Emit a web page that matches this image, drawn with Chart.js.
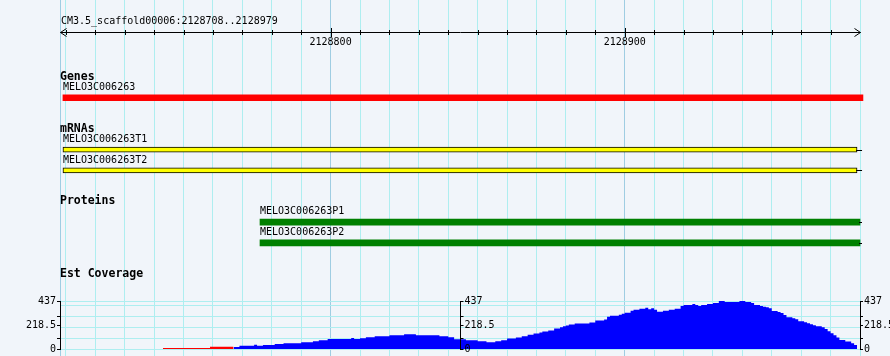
<!DOCTYPE html>
<html><head><meta charset="utf-8">
<script src="https://cdn.jsdelivr.net/npm/chart.js@4/dist/chart.umd.min.js"></script>
<style>
html,body{margin:0;padding:0;background:#f1f5fa;}
#wrap{position:relative;width:890px;height:356px;background:#f1f5fa;overflow:hidden;}
#wrap canvas{position:absolute;left:0;top:0;}
</style></head><body>
<div id="wrap">
<canvas id="grid" width="890" height="356"></canvas>
<canvas id="cov" width="890" height="356"></canvas>
<canvas id="feat" width="890" height="356"></canvas>
</div>
<script>
// ---- data ----
const viewStart = 2128708;
const viewEnd = 2128980;
const rulerTitle = 'CM3.5_scaffold00006:2128708..2128979';
const rulerStep = 10;
const rulerMajor = [2128800, 2128900];
const rulerMajorLabels = ['2128800', '2128900'];

const trackNames = ['Genes', 'mRNAs', 'Proteins', 'Est Coverage'];
const featureNames = ['MELO3C006263', 'MELO3C006263T1', 'MELO3C006263T2', 'MELO3C006263P1', 'MELO3C006263P2'];
const featureTrack = [0, 1, 1, 2, 2];
const featureStart = [2128709, 2128709, 2128709, 2128776, 2128776];
const featureEnd = [2128981, 2128979, 2128979, 2128980, 2128980];

const covMax = 437;
const covTickValues = [0, 100, 218.5, 300, 437];
const covTickLabels = ['0', '', '218.5', '', '437'];
const covGridValues = [0, 100, 200, 300, 400, 437];

const redPos = [2128743, 2128759, 2128767];
const redVal = [9, 20, 20];

const bluePos = [2128767,2128769,2128774,2128775,2128777,2128781,2128784,2128790,2128794,2128796,
 2128799,2128807,2128808,2128810,2128812,2128815,2128820,2128825,2128829,2128837,
 2128840,2128842,2128846,2128850,2128853,2128856,2128858,2128860,2128863,2128865,
 2128867,2128869,2128871,2128872,2128874,2128876,2128878,2128879,2128880,2128881,
 2128883,2128888,2128890,2128893,2128894,2128895,2128898,2128899,2128900,2128902,
 2128903,2128905,2128907,2128908,2128909,2128910,2128911,2128913,2128915,2128917,
 2128919,2128920,2128923,2128924,2128925,2128926,2128928,2128930,2128932,2128934,
 2128939,2128941,2128943,2128944,2128946,2128947,2128948,2128949,2128950,2128952,
 2128953,2128954,2128955,2128957,2128958,2128959,2128961,2128962,2128963,2128964,
 2128965,2128967,2128968,2128969,2128970,2128971,2128972,2128973,2128975,2128977,
 2128978,2128979];
const blueVal = [18,30,38,30,36,45,53,62,71,80,
 92,100,92,98,107,116,125,134,125,116,
 107,89,80,71,62,71,80,95,105,116,
 130,140,150,160,169,187,199,208,214,223,
 232,241,259,268,294,303,312,321,330,348,
 357,366,375,363,370,357,339,348,357,366,
 392,401,410,401,392,401,410,419,437,428,
 437,428,419,401,392,384,381,372,345,336,
 327,310,288,279,270,252,243,235,226,217,
 208,199,181,161,143,125,104,83,69,53,
 36,0];

// ---- styles ----
const MONO = '"DejaVu Sans Mono", "Liberation Mono", monospace';
const GRID_LIGHT = '#aeeef0';
const GRID_DARK = '#9fcde2';
Chart.defaults.font.family = MONO;
Chart.defaults.color = '#000';

function rulerTickValues() {
  const t = [viewStart];
  for (let v = Math.ceil(viewStart / rulerStep) * rulerStep; v <= viewEnd; v += rulerStep) {
    if (v !== viewStart) t.push(v);
  }
  return t;
}

// ---- background grid + ruler ----
const rulerPlugin = {
  id: 'ruler',
  afterDraw(chart) {
    const ctx = chart.ctx, xs = chart.scales.x;
    const y = 32.5;
    const L = xs.getPixelForValue(viewStart) + 0.5;
    const R = xs.getPixelForValue(viewEnd) + 0.5;
    ctx.save();
    ctx.strokeStyle = '#000'; ctx.fillStyle = '#000'; ctx.lineWidth = 1;
    ctx.font = '10px ' + MONO;
    ctx.textBaseline = 'middle'; ctx.textAlign = 'left';
    ctx.fillText(rulerTitle, L + 0.5, 21);
    ctx.beginPath();
    ctx.moveTo(L, y); ctx.lineTo(R, y);
    ctx.moveTo(L + 6, y - 4); ctx.lineTo(L, y); ctx.lineTo(L + 6, y + 4);
    ctx.moveTo(R - 6, y - 4); ctx.lineTo(R, y); ctx.lineTo(R - 6, y + 4);
    xs.ticks.forEach((t, i) => {
      if (i === 0 || i === xs.ticks.length - 1) return;
      const px = Math.round(xs.getPixelForValue(t.value)) + 0.5;
      const major = rulerMajor.includes(t.value);
      ctx.moveTo(px, major ? 28 : 30); ctx.lineTo(px, major ? 37 : 35);
    });
    ctx.stroke();
    ctx.textAlign = 'center';
    rulerMajor.forEach((v, i) => ctx.fillText(rulerMajorLabels[i], xs.getPixelForValue(v), 42));
    ctx.restore();
  }
};

new Chart(document.getElementById('grid'), {
  type: 'line',
  data: { datasets: [] },
  options: {
    responsive: false, animation: false, devicePixelRatio: 1,
    layout: { padding: { left: 60, right: 30, top: 0, bottom: 0 } },
    plugins: { legend: { display: false }, tooltip: { enabled: false } },
    scales: {
      x: {
        type: 'linear', min: viewStart, max: viewEnd,
        afterBuildTicks: s => { s.ticks = rulerTickValues().map(v => ({ value: v })); },
        ticks: { display: false, autoSkip: false },
        border: { display: false },
        grid: {
          drawTicks: false, lineWidth: 1,
          color: c => (c.index === 0 || (c.tick && Math.round(c.tick.value) % 100 === 0)) ? GRID_DARK : GRID_LIGHT
        }
      },
      y: { display: false, min: 0, max: 1 }
    }
  },
  plugins: [rulerPlugin]
});

// ---- coverage ----
const midAxisPlugin = {
  id: 'midAxis',
  afterDatasetsDraw(chart) {
    const ctx = chart.ctx, xs = chart.scales.x, ys = chart.scales.y2;
    const x = Math.round(xs.getPixelForValue((viewStart + viewEnd) / 2)) + 0.5;
    ctx.save();
    ctx.strokeStyle = '#000'; ctx.fillStyle = '#000'; ctx.lineWidth = 1;
    ctx.beginPath();
    ctx.moveTo(x, Math.round(ys.top)); ctx.lineTo(x, Math.round(ys.bottom) + 1);
    ys.ticks.forEach(t => {
      const py = Math.round(ys.getPixelForValue(t.value)) + 0.5;
      ctx.moveTo(x, py); ctx.lineTo(x + 3, py);
    });
    ctx.stroke();
    ctx.font = '10px ' + MONO; ctx.textAlign = 'left'; ctx.textBaseline = 'middle';
    ys.ticks.forEach((t, i) => {
      ctx.fillText(covTickLabels[i], x + 4, ys.getPixelForValue(t.value));
    });
    ctx.restore();
  }
};

const axisTickOpts = {
  padding: 1, color: '#000', autoSkip: false,
  font: { family: MONO, size: 10 },
  callback: (v, i) => covTickLabels[i]
};

new Chart(document.getElementById('cov'), {
  type: 'line',
  data: {
    datasets: [
      { data: redPos.map((p, i) => ({ x: p, y: redVal[i] })), backgroundColor: '#ff0000',
        borderWidth: 0, pointRadius: 0, fill: 'origin', stepped: true },
      { data: bluePos.map((p, i) => ({ x: p, y: blueVal[i] })), backgroundColor: '#0000ff',
        borderWidth: 0, pointRadius: 0, fill: 'origin', stepped: true }
    ]
  },
  options: {
    responsive: false, animation: false, devicePixelRatio: 1,
    layout: { padding: { left: 0, right: 0, top: 301, bottom: 6 } },
    plugins: { legend: { display: false }, tooltip: { enabled: false } },
    scales: {
      x: { type: 'linear', min: viewStart, max: viewEnd, display: false },
      y: {
        position: 'left', min: 0, max: covMax,
        afterBuildTicks: s => { s.ticks = covTickValues.map(v => ({ value: v })); },
        afterFit: s => { s.width = 60; },
        grid: { drawOnChartArea: false, drawTicks: true, tickLength: 3, tickColor: '#000' },
        border: { display: true, color: '#000', width: 1 },
        ticks: axisTickOpts
      },
      yg: {
        position: 'left', min: 0, max: covMax,
        afterBuildTicks: s => { s.ticks = covGridValues.map(v => ({ value: v })); },
        afterFit: s => { s.width = 0; },
        ticks: { display: false }, border: { display: false },
        grid: { drawOnChartArea: true, drawTicks: false, color: GRID_LIGHT, lineWidth: 1 }
      },
      y2: {
        position: 'right', min: 0, max: covMax,
        afterBuildTicks: s => { s.ticks = covTickValues.map(v => ({ value: v })); },
        afterFit: s => { s.width = 30; },
        grid: { drawOnChartArea: false, drawTicks: true, tickLength: 3, tickColor: '#000' },
        border: { display: true, color: '#000', width: 1 },
        ticks: axisTickOpts
      }
    }
  },
  plugins: [midAxisPlugin]
});

// ---- features ----
const rows = [];
trackNames.forEach((tn, t) => {
  rows.push({ key: 'h' + t, kind: 'header', text: tn });
  featureNames.forEach((fn, f) => {
    if (featureTrack[f] !== t) return;
    rows.push({ key: 'n' + f, kind: 'name' });
    rows.push({ key: 'b' + f, kind: 'bar' });
  });
  if (t < trackNames.length - 1) {
    rows.push({ key: 'g' + t + 'a', kind: 'gap' });
    rows.push({ key: 'g' + t + 'b', kind: 'gap' });
  }
});

const trackStyles = [
  { backgroundColor: '#ff0000', borderColor: '#ff0000', borderWidth: 0, barThickness: 6, tip: 0 },
  { backgroundColor: '#ffff00', borderColor: '#000000', borderWidth: 1, barThickness: 5, tip: 5 },
  { backgroundColor: '#008000', borderColor: '#008000', borderWidth: 0, barThickness: 6, tip: 2 }
];

const featDatasets = trackStyles.map((st, t) => Object.assign({
  label: trackNames[t],
  data: featureNames.map((fn, f) => f).filter(f => featureTrack[f] === t).map(f => ({
    x: [featureStart[f], featureEnd[f]], y: 'b' + f, name: featureNames[f], nameRow: 'n' + f
  })),
  borderSkipped: false, grouped: false, clip: false
}, st));

const namePlugin = {
  id: 'names',
  afterDatasetsDraw(chart) {
    const ctx = chart.ctx, ys = chart.scales.y;
    const labels = ys.getLabels();
    ctx.save();
    ctx.font = '10px ' + MONO; ctx.fillStyle = '#000'; ctx.strokeStyle = '#000';
    ctx.lineWidth = 1; ctx.textBaseline = 'middle'; ctx.textAlign = 'left';
    chart.data.datasets.forEach((ds, di) => {
      const meta = chart.getDatasetMeta(di);
      meta.data.forEach((el, i) => {
        const d = ds.data[i];
        const left = Math.min(el.x, el.base), right = Math.max(el.x, el.base);
        ctx.fillText(d.name, left, ys.getPixelForValue(labels.indexOf(d.nameRow)));
        if (ds.tip) {
          const cy = Math.round(el.y) + 0.5;
          ctx.beginPath(); ctx.moveTo(right - 1, cy); ctx.lineTo(right + ds.tip, cy); ctx.stroke();
        }
      });
    });
    ctx.restore();
  }
};

new Chart(document.getElementById('feat'), {
  type: 'bar',
  data: { datasets: featDatasets },
  options: {
    indexAxis: 'y',
    responsive: false, animation: false, devicePixelRatio: 1,
    layout: { padding: { left: 60, right: 30, top: 77, bottom: 82 } },
    plugins: { legend: { display: false }, tooltip: { enabled: false } },
    scales: {
      x: { type: 'linear', min: viewStart, max: viewEnd, display: false, beginAtZero: false },
      y: {
        type: 'category', labels: rows.map(r => r.key), offset: false, position: 'left',
        grid: { display: false, drawTicks: false }, border: { display: false },
        ticks: {
          mirror: true, padding: 0, autoSkip: false, color: '#000',
          font: { family: MONO, size: 11.5, weight: 'bold' },
          callback: (v, i) => rows[i].kind === 'header' ? rows[i].text : ''
        }
      }
    }
  },
  plugins: [namePlugin]
});
</script>
</body></html>
